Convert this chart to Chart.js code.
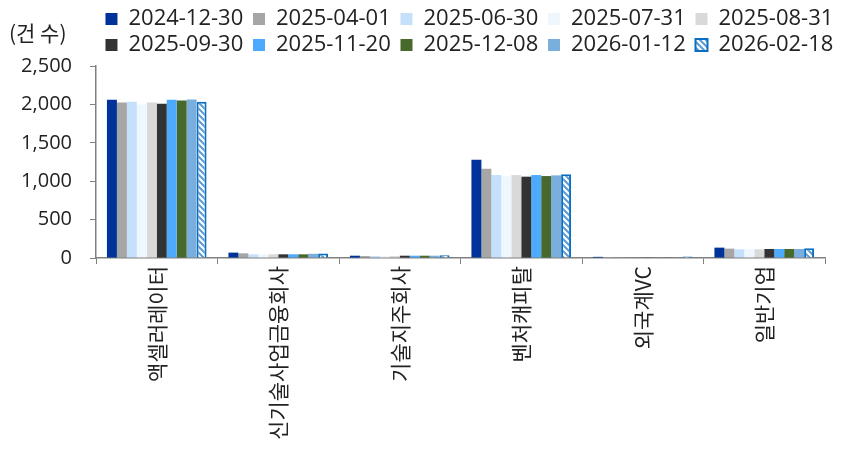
<!DOCTYPE html>
<html>
<head>
<meta charset="utf-8">
<script src="https://cdn.jsdelivr.net/npm/chart.js@4"></script>
<style>
  html, body { margin: 0; padding: 0; background: #fff; }
  #wrap { width: 851px; height: 449px; }
</style>
</head>
<body>
<div id="wrap"><canvas id="chart"></canvas></div>
<script>
const categories = ['액셀러레이터', '신기술사업금융회사', '기술지주회사', '벤처캐피탈', '외국계VC', '일반기업'];
const seriesNames = ['2024-12-30', '2025-04-01', '2025-06-30', '2025-07-31', '2025-08-31',
                     '2025-09-30', '2025-11-20', '2025-12-08', '2026-01-12', '2026-02-18'];
// values per date, in category order
const v20241230 = [2060, 70, 30, 1280, 15, 135];
const v20250401 = [2026, 61, 25, 1163, 13, 122];
const v20250630 = [2035, 48, 25, 1080, 8, 113];
const v20250731 = [2000, 48, 25, 1063, 6, 113];
const v20250831 = [2026, 48, 25, 1080, 6, 113];
const v20250930 = [2009, 48, 30, 1059, 8, 117];
const v20251120 = [2061, 48, 30, 1080, 8, 117];
const v20251208 = [2052, 48, 30, 1067, 8, 117];
const v20260112 = [2065, 55, 30, 1076, 8, 117];
const v20260218 = [2035, 60, 36, 1089, 20, 127];
const yTicks = [0, 500, 1000, 1500, 2000, 2500];

const seriesValues = [v20241230, v20250401, v20250630, v20250731, v20250831,
                      v20250930, v20251120, v20251208, v20260112, v20260218];
const fills = ['#003399', '#A6A6A6', '#C5E0FA', '#EEF6FE', '#D9D9D9',
               '#333333', '#4DAAFF', '#476A2C', '#7AAEDC'];

// hatched fill for the last series
function makeHatch() {
    const c = document.createElement('canvas');
    c.width = 6; c.height = 6;
    const g = c.getContext('2d');
    g.fillStyle = '#ffffff';
    g.fillRect(0, 0, 6, 6);
    g.strokeStyle = '#5B9BD5';
    g.lineWidth = 2;
    g.beginPath();
    g.moveTo(-1, -1); g.lineTo(7, 7);
    g.moveTo(-4, 2); g.lineTo(4, 10);
    g.moveTo(2, -4); g.lineTo(10, 4);
    g.stroke();
    return document.getElementById('chart').getContext('2d').createPattern(c, 'repeat');
}
const hatch = makeHatch();

const datasets = seriesNames.map(function (name, i) {
    const last = i === seriesNames.length - 1;
    return {
        label: name,
        data: seriesValues[i],
        backgroundColor: last ? hatch : fills[i],
        borderColor: last ? '#0B6FC1' : fills[i],
        borderWidth: last ? 2 : 0,
        categoryPercentage: 0.82,
        barPercentage: 1.0
    };
});

const KR = '"Noto Sans CJK KR", "Noto Sans", sans-serif';
const NUM = '"Open Sans", "Noto Sans", sans-serif';

const unitLabel = {
    id: 'unitLabel',
    afterDraw(chart) {
        const ctx = chart.ctx;
        ctx.save();
        ctx.font = '21px ' + KR;
        ctx.fillStyle = '#222';
        ctx.textAlign = 'left';
        ctx.textBaseline = 'middle';
        ctx.fillText('(건 수)', 9, 33);
        ctx.restore();
    }
};

new Chart(document.getElementById('chart'), {
    type: 'bar',
    data: { labels: categories, datasets: datasets },
    plugins: [unitLabel],
    options: {
        responsive: true,
        maintainAspectRatio: false,
        animation: false,
        layout: { padding: { left: 8, right: 8, top: 4, bottom: 0 } },
        plugins: {
            legend: {
                position: 'top',
                align: 'end',
                labels: {
                    font: { family: NUM, size: 22 },
                    color: '#222',
                    boxWidth: 12,
                    boxHeight: 12,
                    padding: 4,
                    generateLabels(chart) {
                        const items = Chart.defaults.plugins.legend.labels.generateLabels(chart);
                        items.forEach(it => { it.text = it.text + ' '; });
                        return items;
                    }
                }
            },
            tooltip: { enabled: false }
        },
        scales: {
            x: {
                afterFit(scale) { scale.height = 191; },
                grid: { display: true, drawOnChartArea: false, drawTicks: true, tickLength: 6, color: '#808080', offset: true },
                border: { color: '#808080', width: 1.5 },
                ticks: {
                    font: { family: KR, size: 21 },
                    color: '#222',
                    maxRotation: 90,
                    minRotation: 90,
                    padding: 2
                }
            },
            y: {
                min: 0,
                max: 2500,
                afterBuildTicks(scale) { scale.ticks = yTicks.map(v => ({ value: v })); },
                afterFit(scale) { scale.width = 88; },
                grid: { display: true, drawOnChartArea: false, drawTicks: true, tickLength: 6, color: '#808080' },
                border: { color: '#808080', width: 1.5 },
                ticks: {
                    font: { family: NUM, size: 20 },
                    color: '#222',
                    padding: 18
                }
            },
            // empty right-hand spacer so the plot ends where the reference does
            yRight: {
                position: 'right',
                min: 0,
                max: 2500,
                afterFit(scale) { scale.width = 18; },
                grid: { display: false },
                border: { display: false },
                ticks: { display: false }
            }
        }
    }
});
</script>
</body>
</html>
